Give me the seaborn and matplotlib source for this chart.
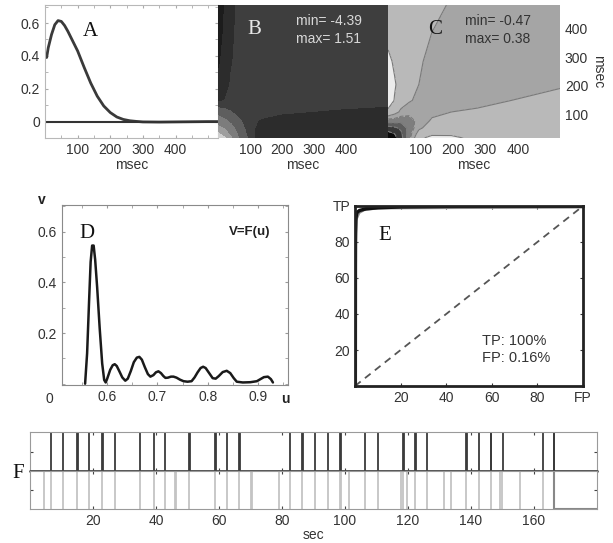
import numpy as np
import pandas as pd
import seaborn as sns
import matplotlib.pyplot as plt
from matplotlib.ticker import MultipleLocator

# A: first order kernel (msec -> value)
a_ms = [5, 10, 20, 30, 40, 50, 60, 70, 80, 100, 120, 140, 160, 180, 200, 220,
        240, 260, 280, 300, 350, 400, 450, 500, 530]
a_val = [0.39, 0.45, 0.53, 0.59, 0.615, 0.61, 0.585, 0.55, 0.51, 0.43, 0.33,
         0.235, 0.155, 0.095, 0.055, 0.028, 0.013, 0.005, 0.001, -0.002,
         -0.003, -0.002, -0.001, 0.0, 0.0]

# B, C: second order kernels read on a coarse grid (msec)
k_x = [0, 20, 40, 65, 95, 135, 195, 275, 380, 530]
k_y = [20, 35, 55, 80, 110, 150, 205, 285, 385, 480]
b_kernel = [
    [1.51, 1.25, 0.85, 0.45, 0.12, -0.45, -0.6, -0.6, -0.6, -0.6],
    [1.25, 1.0, 0.7, 0.38, 0.08, -0.45, -0.6, -0.6, -0.6, -0.6],
    [0.9, 0.75, 0.55, 0.3, 0.04, -0.35, -0.5, -0.55, -0.6, -0.6],
    [0.6, 0.5, 0.38, 0.2, 0.0, -0.2, -0.3, -0.35, -0.4, -0.4],
    [0.35, 0.28, 0.16, 0.05, 0.0, 0.0, -0.1, -0.15, -0.2, -0.25],
    [-0.2, -0.16, 0.0, 0.0, 0.0, 0.0, 0.0, 0.0, 0.0, -0.05],
    [-0.6, -0.4, -0.1, 0.0, 0.0, 0.0, 0.0, 0.0, 0.0, 0.0],
    [-0.8, -0.55, -0.2, 0.0, 0.0, 0.0, 0.0, 0.0, 0.0, 0.0],
    [-0.9, -0.65, -0.3, 0.0, 0.0, 0.0, 0.0, 0.0, 0.0, 0.0],
    [-1.0, -0.7, -0.35, 0.0, 0.0, 0.0, 0.0, 0.0, 0.0, 0.0],
]
c_kernel = [
    [-0.47, -0.40, -0.30, -0.12, 0.10, 0.22, 0.20, 0.09, 0.06, 0.06],
    [-0.40, -0.36, -0.28, -0.12, 0.04, 0.10, 0.11, 0.09, 0.07, 0.06],
    [-0.30, -0.28, -0.24, -0.14, -0.02, 0.05, 0.08, 0.07, 0.06, 0.05],
    [-0.12, -0.12, -0.14, -0.12, -0.05, 0.01, 0.03, 0.04, 0.04, 0.04],
    [0.10, 0.04, -0.02, -0.05, -0.06, -0.02, 0.00, 0.01, 0.02, 0.03],
    [0.28, 0.14, 0.05, 0.01, -0.02, -0.04, -0.03, -0.02, 0.00, 0.015],
    [0.32, 0.17, 0.08, 0.03, 0.00, -0.03, -0.04, -0.04, -0.02, -0.005],
    [0.20, 0.12, 0.07, 0.04, 0.01, -0.02, -0.04, -0.04, -0.04, -0.03],
    [0.08, 0.07, 0.06, 0.04, 0.02, 0.00, -0.02, -0.04, -0.04, -0.04],
    [0.06, 0.06, 0.05, 0.04, 0.03, 0.015, -0.005, -0.03, -0.04, -0.04],
]
b_levels = [-4.39, -0.7, -0.15, 0.15, 0.45, 0.8, 1.2, 1.51]
c_levels = [-0.47, -0.36, -0.26, -0.17, -0.08, 0.0, 0.15, 0.38]

# D: V = F(u)
d_u = [0.556, 0.560, 0.564, 0.567, 0.570, 0.573, 0.576, 0.580, 0.585, 0.590,
       0.594, 0.597, 0.600, 0.606, 0.611, 0.615, 0.619, 0.624, 0.630, 0.636,
       0.641, 0.647, 0.653, 0.659, 0.664, 0.669, 0.675, 0.681, 0.686, 0.692,
       0.697, 0.702, 0.707, 0.712, 0.716, 0.721, 0.727, 0.732, 0.738, 0.745,
       0.752, 0.760, 0.768, 0.774, 0.780, 0.786, 0.791, 0.796, 0.803, 0.810,
       0.816, 0.822, 0.830, 0.838, 0.845, 0.852, 0.858, 0.870, 0.885, 0.898,
       0.905, 0.912, 0.920, 0.926, 0.930]
d_v = [0.0, 0.12, 0.33, 0.48, 0.545, 0.545, 0.49, 0.38, 0.22, 0.08,
       0.015, 0.005, 0.02, 0.055, 0.073, 0.077, 0.07, 0.05, 0.025, 0.012,
       0.02, 0.05, 0.085, 0.103, 0.106, 0.095, 0.065, 0.038, 0.028, 0.034,
       0.045, 0.049, 0.042, 0.03, 0.023, 0.024, 0.028, 0.028, 0.024, 0.016,
       0.01, 0.008, 0.01, 0.025, 0.045, 0.062, 0.067, 0.062, 0.042, 0.022,
       0.02, 0.03, 0.046, 0.051, 0.042, 0.022, 0.008, 0.005, 0.006, 0.01,
       0.018, 0.026, 0.028, 0.018, 0.005]

# E: ROC curves
e_fp = [0, 0.1, 0.16, 0.3, 0.6, 1, 2, 5, 10, 20, 40, 60, 80, 100]
e_tp = [0, 60, 85, 92, 95, 96.5, 97.5, 98.5, 99, 99.5, 99.8, 100, 100, 100]
e_fp2 = [0.6, 0.7, 1.0, 2.0, 4.0, 10, 100]
e_tp2 = [0, 80, 93, 96, 97.5, 98.5, 99]

# F: detected (top) and true (bottom) events, sec
f_detected = [6.7, 10.4, 14.9, 15.2, 18.8, 22.8, 23.1, 27.0, 34.9, 39.4, 42.8,
              50.4, 50.7, 58.8, 59.1, 62.5, 66.4, 66.7, 82.5, 86.5, 86.8, 90.4,
              94.6, 98.5, 98.8, 106.2, 110.6, 118.3, 118.6, 122.3, 122.6,
              125.9, 138.3, 138.6, 142.5, 146.2, 146.5, 150.1, 162.8, 166.2,
              166.5]
f_true = [4.6, 6.7, 10.4, 14.9, 18.8, 22.8, 27.0, 34.9, 39.4, 42.8, 45.9, 46.4,
          50.4, 58.8, 62.5, 66.4, 70.1, 70.6, 79.2, 82.5, 86.5,
          90.4, 94.6, 98.4, 98.8, 101.3, 106.2, 110.6, 117.9, 118.5,
          119.8, 122.3, 125.9, 131.5, 133.6, 138.3, 142.5, 146.2, 149.2, 149.8,
          155.7, 162.8]
f_end = 166.2

sns.set_style("ticks", {"xtick.direction": "in", "ytick.direction": "in"})
plt.rcParams['font.family'] = ['Liberation Sans', 'DejaVu Sans']
plt.rcParams['font.size'] = 10
plt.rcParams['xtick.color'] = '#333333'
plt.rcParams['ytick.color'] = '#333333'
plt.rcParams['axes.labelcolor'] = '#333333'

W, H = 613, 543
fig = plt.figure(figsize=(W / 100, H / 100), dpi=100)


def box(l, t, r, b):
    return fig.add_axes([l / W, 1 - b / H, (r - l) / W, (b - t) / H])


def ptext(x, y, s, **kw):
    fig.text(x / W, 1 - y / H, s, **kw)


serif = ['Liberation Serif', 'DejaVu Serif']
grey_edge = '#b8b8b8'

# ---- A
axA = box(45, 5, 218, 138)
sns.lineplot(x=a_ms, y=a_val, ax=axA, color='#3a3a3a', lw=2, estimator=None)
axA.axhline(0, color='#333333', lw=1.5)
axA.set_xlim(0, 530)
axA.set_ylim(-0.1, 0.71)
axA.set_xticks([100, 200, 300, 400])
axA.set_yticks([0, 0.2, 0.4, 0.6], ['0', '0.2', '0.4', '0.6'])
axA.yaxis.set_minor_locator(MultipleLocator(0.1))
axA.xaxis.set_minor_locator(MultipleLocator(50))
axA.tick_params(which='both', top=True, right=True, length=2, color='#aaaaaa')
axA.set_xlabel('msec', labelpad=1)
for s in axA.spines.values():
    s.set_color(grey_edge)

# ---- B
axB = box(218, 5, 388, 138)
axB.contourf(k_x, k_y, b_kernel, levels=b_levels,
             colors=['#1c1c1c', '#2c2c2c', '#3e3e3e', '#5e5e5e', '#7c7c7c',
                     '#9e9e9e', '#cfcfcf'])
axB.set_xlim(0, 530)
axB.set_ylim(20, 480)
axB.set_xticks([100, 200, 300, 400])
axB.set_yticks([])
axB.tick_params(length=0)
axB.set_xlabel('msec', labelpad=1)
for s in axB.spines.values():
    s.set_visible(False)
axB.text(0.46, 0.93, 'min= -4.39\nmax= 1.51', transform=axB.transAxes,
         color='#d8d8d8', fontsize=10, va='top', linespacing=1.3)

# ---- C
axC = box(388, 5, 560, 138)
axC.contourf(k_x, k_y, c_kernel, levels=c_levels,
             colors=['#0a0a0a', '#383838', '#5c5c5c', '#7e7e7e', '#a5a5a5',
                     '#b9b9b9', '#ececec'])
axC.contour(k_x, k_y, c_kernel, levels=c_levels[1:-1], colors='#7a7a7a',
            linewidths=0.8)
axC.set_xlim(0, 530)
axC.set_ylim(20, 480)
axC.set_xticks([100, 200, 300, 400])
axC.set_yticks([100, 200, 300, 400])
axC.yaxis.tick_right()
axC.yaxis.set_label_position('right')
axC.tick_params(length=0)
axC.set_xlabel('msec', labelpad=1)
axC.set_ylabel('msec', rotation=270, labelpad=12)
for s in axC.spines.values():
    s.set_visible(False)
axC.text(0.45, 0.93, 'min= -0.47\nmax= 0.38', transform=axC.transAxes,
         color='#333333', fontsize=10, va='top', linespacing=1.3)

# ---- D
axD = box(62, 205, 288, 385)
sns.lineplot(x=d_u, y=d_v, ax=axD, color='#1a1a1a', lw=1.8, estimator=None,
             sort=False)
axD.set_xlim(0.51, 0.96)
axD.set_ylim(-0.005, 0.705)
axD.set_xticks([0.6, 0.7, 0.8, 0.9], ['0.6', '0.7', '0.8', '0.9'])
axD.set_yticks([0.2, 0.4, 0.6], ['0.2', '0.4', '0.6'])
axD.xaxis.set_minor_locator(MultipleLocator(0.05))
axD.yaxis.set_minor_locator(MultipleLocator(0.1))
axD.tick_params(which='both', top=True, right=True, length=2, color='#999999')
for s in axD.spines.values():
    s.set_color('#8a8a8a')
axD.text(-0.058, -0.078, '0', transform=axD.transAxes, ha='center',
         va='center', color='#333333')
axD.text(0.987, -0.078, 'u', transform=axD.transAxes, ha='center',
         va='center', fontweight='bold', color='#222222')
axD.text(-0.088, 1.028, 'v', transform=axD.transAxes, ha='center',
         va='center', fontweight='bold', color='#222222')
axD.text(0.83, 0.85, 'V=F(u)', transform=axD.transAxes, ha='center',
         va='center', fontweight='bold', color='#222222', fontsize=9.5)

# ---- E
axE = box(355, 206, 583, 386)
sns.lineplot(x=[0, 100], y=[0, 100], ax=axE, color='#555555', lw=1.3,
             linestyle=(0, (4, 3)), estimator=None)
sns.lineplot(x=e_fp2, y=e_tp2, ax=axE, color='#8a8a8a', lw=1.0,
             estimator=None, sort=False)
sns.lineplot(x=e_fp, y=e_tp, ax=axE, color='#111111', lw=2.5,
             estimator=None, sort=False)
axE.set_xlim(0, 100)
axE.set_ylim(0, 100)
axE.set_xticks([20, 40, 60, 80, 100], ['20', '40', '60', '80', 'FP'])
axE.set_yticks([20, 40, 60, 80, 100], ['20', '40', '60', '80', 'TP'])
axE.tick_params(top=True, right=True, length=2, color='#333333')
for s in axE.spines.values():
    s.set_color('#222222')
    s.set_linewidth(2)
axE.text(0.557, 0.29, 'TP: 100%\nFP: 0.16%', transform=axE.transAxes,
         va='top', color='#333333', fontsize=10.5, linespacing=1.25)

# ---- F
axF1 = box(30, 432, 597, 471)
axF2 = box(30, 471, 597, 509)
axF1.vlines(f_detected, 0, 1, color='#3a3a3a', lw=1.3)
axF2.vlines(f_true, -1, 0, color='#c4c4c4', lw=1.3)
sns.lineplot(x=[f_end, f_end, 180], y=[0, -1, -1], ax=axF2, color='#888888',
             lw=1.5, estimator=None, sort=False)
axF1.axhline(0, color='#444444', lw=2, clip_on=False, zorder=5)
for ax, lo, hi, yt in [(axF1, 0, 1, 0.5), (axF2, -1, 0, -0.5)]:
    ax.set_xlim(0, 180)
    ax.set_ylim(lo, hi)
    ax.set_xticks([20, 40, 60, 80, 100, 120, 140, 160])
    ax.set_yticks([yt], [''])
    ax.tick_params(top=True, right=True, length=2, color='#444444')
    for s in ax.spines.values():
        s.set_color('#9a9a9a')
axF1.set_xticklabels([])
axF2.set_xlabel('sec', labelpad=0)

# panel letters
for x, y, s, c in [(90, 32, 'A', '#111111'), (254, 30, 'B', '#e8e8e8'),
                   (435, 29, 'C', '#111111'), (87, 234, 'D', '#111111'),
                   (385, 235, 'E', '#111111'), (18, 474, 'F', '#111111')]:
    ptext(x, y, s, ha='center', va='center', family=serif, fontsize=15,
          color=c)

fig.savefig('out.png', dpi=100)
